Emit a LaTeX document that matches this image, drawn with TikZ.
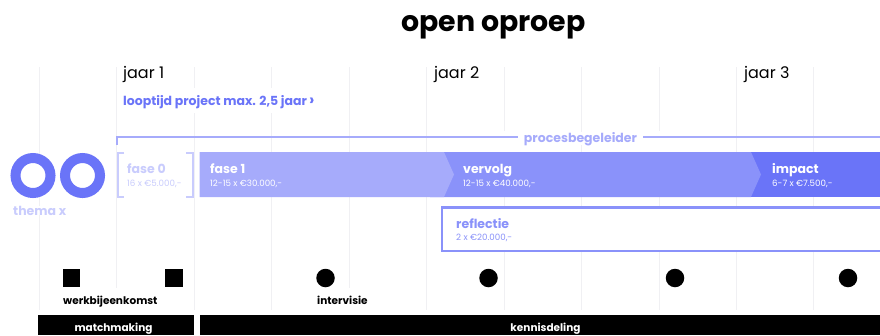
\documentclass[tikz,border=0pt]{standalone}
\usepackage{fontspec}
\setmainfont{Poppins}
\definecolor{indigoA}{HTML}{6A74F8}
\definecolor{indigoB}{HTML}{8A92FA}
\definecolor{indigoC}{HTML}{A6ABFB}
\definecolor{indigoD}{HTML}{C9CCFD}
\definecolor{gridc}{HTML}{F0F0F3}
\tikzset{
  gridline/.style={draw=gridc,line width=0.8pt},
  labelb/.style={font=\fontsize{12.5}{14}\selectfont\bfseries,inner sep=0pt,anchor=base west},
  labels/.style={font=\fontsize{8.7}{10}\selectfont,inner sep=0pt,anchor=base west},
  year/.style={font=\fontsize{16}{18}\selectfont,inner sep=0pt,anchor=base west,text=black},
  evt/.style={font=\fontsize{10.5}{12}\selectfont\bfseries,inner sep=0pt,anchor=base west,text=black,fill=white,text height=16pt,text depth=7pt},
  barlabel/.style={font=\fontsize{10.5}{12}\selectfont\bfseries,text=white,inner sep=0pt,anchor=base},
  squaremark/.style={fill=black,draw=none,minimum size=17.5pt,inner sep=0pt},
  dotmark/.style={fill=black,draw=none,circle,minimum size=18.5pt,inner sep=0pt},
  bracketline/.style={draw=indigoD,line width=2pt},
  ringo/.style={draw=indigoA,fill=white,line width=10pt,circle,minimum size=35pt,inner sep=0pt,outer sep=0pt}
}
\begin{document}
\begin{tikzpicture}[x=1pt,y=-1pt]
\useasboundingbox (0,0) rectangle (880,335);
% grid
\foreach \g in {39,116,194,271,349,426,581,736,813}{
  \coordinate (gt\g) at (\g,67);
  \coordinate (gb\g) at (\g,310);
  \draw[gridline] (gt\g) -- (gb\g);
}
\foreach \g in {504,659}{
  \coordinate (gt\g) at (\g,67);
  \coordinate (gm\g) at (\g,131);
  \coordinate (gn\g) at (\g,152);
  \coordinate (gb\g) at (\g,310);
  \draw[gridline] (gt\g) -- (gm\g) (gn\g) -- (gb\g);
}
% title
\node[font=\fontsize{28.4}{32}\selectfont\bfseries,inner sep=0pt,anchor=base] (title) at (493.5,31) {open oproep};
% years
\node[year] (y1) at (123,78) {jaar 1};
\node[year] (y2) at (434,78) {jaar 2};
\node[year] (y3) at (744,78) {jaar 3};
% duration
\node[labelb,text=indigoA,fill=white,text height=17pt,text depth=8pt] (dur) at (123,105) {looptijd project max. 2,5 jaar\,{\fontsize{16}{14}\selectfont ›}};
% procesbegeleider
\node[labelb,text=indigoC,fill=white,inner xsep=6pt,anchor=base] (pb) at (580.5,142) {procesbegeleider};
\coordinate (pbl) at (117,145);
\coordinate (pbr) at (880,137);
\draw[draw=indigoC,line width=1.2pt] (pbl) -- (117,137) -- (pb.west |- pbr);
\draw[draw=indigoC,line width=1.2pt] (pb.east |- pbr) -- (pbr);
% phases
\fill[indigoA] (740,152) rectangle (880,197);
\fill[indigoB] (430,152) -- (751,152) -- (761,174.5) -- (751,197) -- (430,197) -- cycle;
\fill[indigoC] (199.5,152) -- (444,152) -- (454,174.5) -- (444,197) -- (199.5,197) -- cycle;
\node[labelb,text=white] (f1) at (210,173) {fase 1};
\node[labels,text=white] (f1s) at (210,186) {12-15 x €30.000,-};
\node[labelb,text=white] (f2) at (463,173) {vervolg};
\node[labels,text=white] (f2s) at (463,186) {12-15 x €40.000,-};
\node[labelb,text=white] (f3) at (772,173) {impact};
\node[labels,text=white] (f3s) at (772,186) {6-7 x €7.500,-};
% fase 0
\fill[white] (117.5,152.5) rectangle (193,196.5);
\draw[bracketline] (124,152.5) -- (117.5,152.5) -- (117.5,196.5) -- (124,196.5);
\draw[bracketline] (186,152.5) -- (193,152.5) -- (193,196.5) -- (186,196.5);
\node[labelb,text=indigoD] (f0) at (127,173) {fase 0};
\node[labels,text=indigoD] (f0s) at (127,186) {16 x €5.000,-};
% reflectie
\draw[draw=indigoB,line width=2.4pt,fill=white] (880,207.5) -- (442,207.5) -- (442,251) -- (880,251);
\node[labelb,text=indigoB] (r) at (456,228) {reflectie};
\node[labels,text=indigoB] (rs) at (456,240.5) {2 x €20.000,-};
% thema
\node[ringo] (o1) at (33,175.5) {};
\node[ringo] (o2) at (82.5,175.5) {};
\node[font=\fontsize{12.5}{14}\selectfont\bfseries,inner sep=0pt,anchor=base west,text=indigoD,fill=white] (tx) at (13,215) {thema x};
% events
\node[squaremark] (s1) at (71.5,278) {};
\node[squaremark] (s2) at (174,278) {};
\node[dotmark] (d1) at (325.5,278) {};
\node[dotmark] (d2) at (488.5,278) {};
\node[dotmark] (d3) at (675,278) {};
\node[dotmark] (d4) at (848,278) {};
\node[evt] (e1) at (63,304) {werkbijeenkomst};
\node[evt] (e2) at (317,304) {intervisie};
% bars
\fill[black] (38,315) rectangle (194,335);
\node[barlabel] (m) at (113.5,331) {matchmaking};
\fill[black] (200,315) rectangle (880,335);
\node[barlabel] (k) at (545.5,331) {kennisdeling};
\end{tikzpicture}
\end{document}
